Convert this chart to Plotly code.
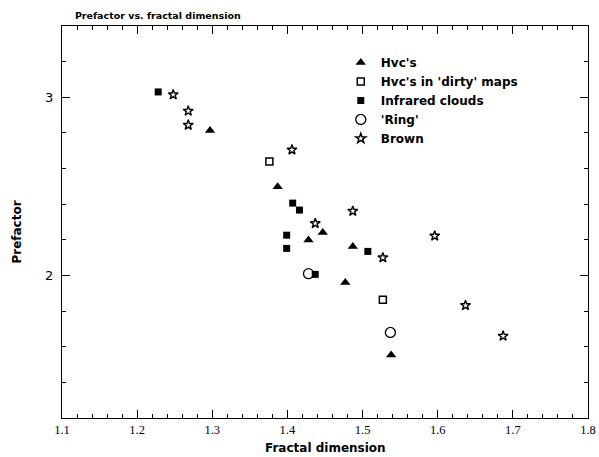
import plotly.graph_objects as go

# Data
hvc_x = [1.297, 1.387, 1.447, 1.428, 1.487, 1.477, 1.538]
hvc_y = [2.814, 2.498, 2.241, 2.199, 2.162, 1.961, 1.553]

dirty_x = [1.376, 1.527]
dirty_y = [2.639, 1.863]

ir_x = [1.228, 1.407, 1.416, 1.399, 1.399, 1.437, 1.507]
ir_y = [3.030, 2.406, 2.367, 2.226, 2.152, 2.006, 2.135]

ring_x = [1.428, 1.537]
ring_y = [2.010, 1.680]

brown_x = [1.248, 1.268, 1.268, 1.406, 1.437, 1.487, 1.527, 1.596, 1.637, 1.687]
brown_y = [3.015, 2.923, 2.844, 2.705, 2.292, 2.361, 2.100, 2.222, 1.832, 1.660]

series_names = ["Hvc's", "Hvc's in 'dirty' maps", "Infrared clouds", "'Ring'", "Brown"]
x_ticks = [1.1, 1.2, 1.3, 1.4, 1.5, 1.6, 1.7, 1.8]
y_ticks = [2, 3]

fig = go.Figure()
fig.add_trace(go.Scatter(x=hvc_x, y=hvc_y, mode="markers", name=series_names[0],
                         marker=dict(symbol="triangle-up", size=9, color="black")))
fig.add_trace(go.Scatter(x=dirty_x, y=dirty_y, mode="markers", name=series_names[1],
                         marker=dict(symbol="square-open", size=7, color="black",
                                     line=dict(width=1.5, color="black"))))
fig.add_trace(go.Scatter(x=ir_x, y=ir_y, mode="markers", name=series_names[2],
                         marker=dict(symbol="square", size=7, color="black")))
fig.add_trace(go.Scatter(x=ring_x, y=ring_y, mode="markers", name=series_names[3],
                         marker=dict(symbol="circle-open", size=10, color="black",
                                     line=dict(width=1.3, color="black"))))
fig.add_trace(go.Scatter(x=brown_x, y=brown_y, mode="markers", name=series_names[4],
                         marker=dict(symbol="star-open", size=7.5, color="black",
                                     line=dict(width=1.4, color="black"))))

axis_common = dict(showgrid=False, zeroline=False, showline=True, linecolor="black",
                   linewidth=1.3, mirror="ticks", ticks="inside", tickcolor="black",
                   ticklen=8, tickwidth=1.3, automargin=False)

fig.update_xaxes(range=[1.1, 1.8], tickvals=x_ticks, ticktext=[f"{v:.1f}" for v in x_ticks],
                 tickfont=dict(family="Liberation Serif", size=12.5, color="black"),
                 minor=dict(dtick=0.02, tick0=1.1, ticks="inside", ticklen=4,
                            tickcolor="black", tickwidth=1.1, showgrid=False),
                 **axis_common)
fig.update_yaxes(range=[1.2, 3.4], tickvals=y_ticks, ticktext=[str(v) for v in y_ticks],
                 tickfont=dict(family="DejaVu Sans", size=13, color="black"),
                 ticklabelstandoff=5,
                 minor=dict(dtick=0.2, tick0=1.2, ticks="inside", ticklen=4,
                            tickcolor="black", tickwidth=1.1, showgrid=False),
                 **axis_common)

title_font = dict(family="DejaVu Sans", size=12, color="black")
fig.add_annotation(text="<b>Fractal dimension</b>", xref="paper", yref="paper",
                   x=0.5, y=-0.0765, xanchor="center", yanchor="middle",
                   showarrow=False, font=title_font)
fig.add_annotation(text="<b>Prefactor</b>", xref="paper", yref="paper",
                   x=-0.086, y=0.475, xanchor="center", yanchor="middle",
                   textangle=-90, showarrow=False, font=title_font)

fig.update_layout(
    width=599, height=457,
    margin=dict(l=62, r=11, t=26, b=39),
    paper_bgcolor="white", plot_bgcolor="white",
    title=dict(text="<b>Prefactor vs. fractal dimension</b>", x=0.125, xanchor="left",
               y=0.965, yanchor="middle",
               font=dict(family="DejaVu Sans", size=9.5, color="black")),
    legend=dict(x=0.53, y=0.944, xanchor="left", yanchor="top",
                bgcolor="rgba(0,0,0,0)", borderwidth=0,
                font=dict(family="DejaVu Sans", size=12, color="black", weight="bold"),
                itemwidth=30, tracegroupgap=0),
    showlegend=True,
)

fig.write_html("out.html", config={"displayModeBar": False},
               post_script="document.body.style.margin='0';document.body.style.padding='0';")
